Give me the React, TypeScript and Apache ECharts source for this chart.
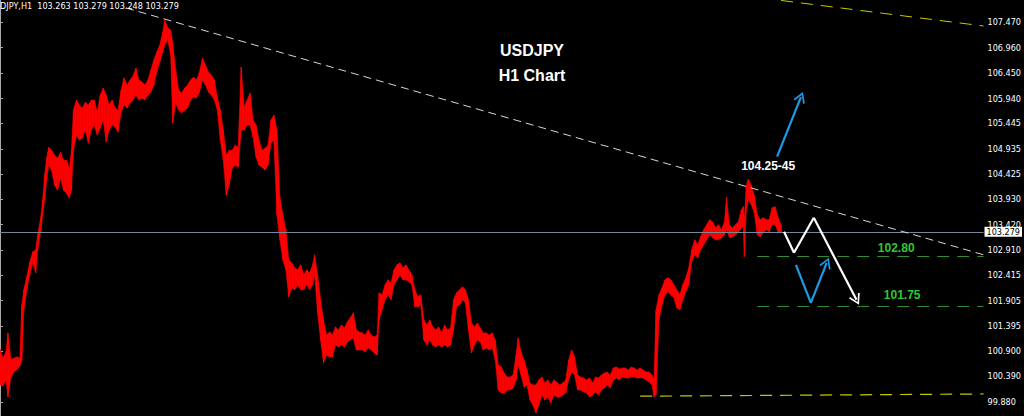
import React, { useEffect, useRef } from "react";
import * as echarts from "echarts";

// Bar index (hours) of each sampled bar
const bars = [
  0, 3, 6, 8, 11, 14, 17, 20, 22, 24,
  27, 30, 33, 36, 38, 41, 43, 45, 47, 49,
  52, 55, 58, 61, 64, 67, 70, 72, 74, 77,
  80, 83, 86, 89, 92, 95, 98, 101, 104, 107,
  110, 113, 116, 119, 122, 125, 128, 131, 134, 137,
  140, 143, 146, 149, 152, 155, 158, 161, 164, 166,
  169, 172, 174, 177, 180, 183, 186, 189, 192, 195,
  198, 201, 204, 207, 210, 213, 216, 219, 222, 225,
  228, 231, 234, 237, 240, 243, 246, 249, 252, 255,
  258, 261, 264, 267, 270, 273, 276, 279, 282, 285,
  288, 291, 294, 297, 300, 303, 306, 309, 312, 315,
  317, 320, 323, 326, 329, 332, 335, 338, 341, 344,
  347, 350, 353, 356, 359, 362, 365, 368, 371, 374,
  377, 380, 382, 385, 388, 391, 394, 397, 400, 403,
  406, 409, 412, 415, 418, 421, 424, 427, 430, 433,
  436, 439, 442, 445, 448, 451, 454, 457, 460, 463,
  466, 469, 472, 475, 478, 481, 484, 487, 490, 493,
  496, 499, 502, 505, 508, 511, 514, 517, 520, 522,
  525, 528, 531, 534, 537, 540, 543, 546, 549, 552,
  555, 558, 561, 564, 567, 570, 573, 576, 579, 582,
  585, 588, 591, 594, 597, 600, 603, 606, 609, 612,
  615, 618, 621, 624, 627, 630, 633, 636, 639, 642,
  645, 648, 651, 654, 657, 659, 661, 664, 667, 670,
  673, 676, 679, 682, 685, 688, 691, 694, 697, 700,
  703, 706, 709, 712, 715, 718, 721, 724, 727, 730,
  732, 735, 738, 741, 744, 747, 749, 750, 752, 754,
  757, 760, 763, 766, 769, 772, 775, 778, 781, 784,
  787,
];

const highs = [
  100.94, 100.76, 100.88, 101.26, 100.72, 100.76, 100.78, 100.76, 101.82, 102.12,
  102.38, 102.68, 102.88, 102.92, 103.22, 103.56, 103.92, 104.41, 104.75, 104.97,
  104.91, 104.81, 104.75, 104.87, 104.71, 104.71, 104.55, 104.91, 105.71, 105.91,
  105.81, 105.75, 105.87, 105.81, 105.91, 105.91, 105.67, 106.01, 106.15, 106.01,
  105.81, 105.91, 105.75, 105.71, 106.11, 106.35, 106.21, 106.31, 106.39, 106.55,
  106.31, 106.27, 106.21, 106.31, 106.51, 106.71, 106.87, 107.01, 107.27, 107.51,
  107.35, 107.31, 107.05, 106.51, 106.11, 106.05, 106.15, 106.21, 106.31, 106.37,
  106.31, 106.47, 106.75, 106.61, 106.47, 106.41, 106.31, 105.97, 105.71, 105.31,
  104.81, 104.91, 104.91, 105.01, 104.97, 106.57, 105.77, 105.91, 106.05, 105.51,
  105.41, 105.11, 104.91, 104.95, 105.01, 105.51, 105.61, 105.31, 103.97, 103.62,
  103.32, 102.72, 102.66, 102.56, 102.52, 102.62, 102.42, 102.52, 102.46, 102.62,
  102.82, 102.42, 101.92, 101.52, 101.22, 101.28, 101.22, 101.38, 101.32, 101.42,
  101.36, 101.48, 101.56, 101.66, 101.32, 101.28, 101.26, 101.22, 101.32, 101.22,
  101.18, 101.22, 102.06, 102.02, 102.22, 102.32, 102.26, 102.52, 102.62, 102.66,
  102.56, 102.62, 102.52, 102.42, 102.12, 101.98, 102.02, 101.52, 101.42, 101.52,
  101.38, 101.32, 101.38, 101.26, 101.42, 101.32, 101.36, 101.92, 102.06, 102.12,
  102.18, 102.12, 101.92, 101.46, 101.38, 101.46, 101.36, 101.26, 101.26, 101.22,
  101.26, 101.12, 100.62, 100.58, 100.46, 100.38, 100.38, 100.42, 100.82, 101.16,
  100.88, 100.72, 100.52, 100.26, 100.22, 100.22, 100.32, 100.38, 100.26, 100.32,
  100.22, 100.32, 100.28, 100.22, 100.26, 100.32, 100.72, 100.92, 100.78, 100.42,
  100.38, 100.36, 100.32, 100.36, 100.26, 100.38, 100.36, 100.42, 100.46, 100.48,
  100.42, 100.56, 100.58, 100.54, 100.56, 100.56, 100.52, 100.58, 100.56, 100.52,
  100.56, 100.52, 100.48, 100.48, 100.42, 100.32, 101.72, 102.02, 102.16, 102.32,
  102.36, 102.32, 102.22, 102.12, 102.02, 102.22, 102.36, 102.56, 102.92, 103.12,
  103.02, 103.18, 103.32, 103.42, 103.52, 103.48, 103.36, 103.42, 103.32, 103.48,
  103.97, 103.42, 103.36, 103.42, 103.48, 103.72, 103.78, 103.52, 104.21, 104.33,
  104.21, 104.01, 103.62, 103.52, 103.56, 103.52, 103.52, 103.76, 103.78, 103.56,
  103.42,
];

const lows = [
  100.22, 100.20, 100.32, 99.98, 100.38, 100.48, 100.52, 100.60, 100.72, 101.72,
  102.12, 102.42, 102.66, 102.46, 102.92, 103.28, 103.62, 103.92, 104.31, 104.61,
  104.51, 104.21, 104.11, 104.35, 104.11, 104.05, 103.95, 104.11, 104.91, 105.21,
  105.11, 105.15, 105.31, 105.05, 105.31, 105.41, 105.21, 105.35, 105.51, 105.07,
  105.31, 105.41, 105.37, 105.27, 105.67, 105.81, 105.75, 105.85, 105.91, 106.01,
  105.91, 105.95, 105.91, 106.01, 106.07, 106.21, 106.47, 106.67, 106.87, 107.01,
  107.11, 106.81, 105.45, 105.85, 105.71, 105.65, 105.71, 105.75, 105.91, 105.97,
  105.95, 106.07, 106.31, 106.21, 106.07, 106.01, 105.91, 105.71, 105.11, 104.71,
  104.01, 104.21, 104.55, 104.61, 104.57, 105.31, 105.31, 105.41, 105.41, 105.17,
  104.77, 104.61, 104.57, 104.51, 104.61, 105.05, 105.11, 103.62, 103.12, 102.72,
  102.52, 101.98, 102.16, 102.12, 102.22, 102.12, 102.12, 102.22, 102.12, 102.22,
  102.42, 101.66, 101.12, 100.66, 100.82, 100.78, 100.78, 101.02, 100.98, 101.02,
  100.98, 101.08, 101.12, 101.16, 100.92, 100.92, 100.92, 100.88, 100.96, 100.92,
  100.86, 100.82, 101.52, 101.72, 101.92, 102.02, 101.92, 102.22, 102.32, 102.42,
  102.32, 102.32, 102.28, 102.22, 101.78, 101.78, 101.82, 101.12, 101.02, 101.12,
  101.02, 100.98, 101.02, 100.98, 101.02, 100.98, 101.02, 101.32, 101.78, 101.82,
  101.92, 101.86, 101.32, 100.86, 101.02, 101.12, 101.08, 100.92, 100.96, 100.92,
  100.96, 100.72, 100.12, 100.06, 100.06, 100.12, 100.12, 100.16, 100.32, 100.62,
  100.42, 100.18, 100.22, 99.92, 99.82, 99.66, 99.82, 100.02, 99.92, 99.98,
  99.86, 100.02, 99.98, 99.98, 100.02, 100.06, 100.32, 100.48, 100.42, 100.12,
  100.12, 100.08, 100.06, 99.98, 100.02, 100.08, 100.02, 100.12, 100.16, 100.22,
  100.16, 100.32, 100.36, 100.32, 100.38, 100.36, 100.36, 100.38, 100.38, 100.36,
  100.36, 100.36, 100.32, 100.28, 100.22, 99.98, 100.02, 101.52, 101.82, 102.02,
  102.08, 102.02, 101.96, 101.76, 101.72, 101.92, 102.08, 102.22, 102.68, 102.82,
  102.76, 102.92, 103.02, 103.12, 103.22, 103.16, 103.12, 103.12, 103.16, 103.22,
  103.32, 103.16, 103.18, 103.22, 103.26, 103.36, 103.38, 102.78, 103.72, 103.92,
  103.82, 103.66, 103.22, 103.18, 103.26, 103.32, 103.28, 103.42, 103.42, 103.28,
  103.26,
];

// Right price scale tick labels
const tickValues = [
  107.47, 106.96, 106.45, 105.94, 105.445, 104.935, 104.425, 103.93,
  103.42, 102.91, 102.415, 101.905, 101.395, 100.9, 100.39, 99.88,
];

const yMin = 99.6;
const yMax = 107.909;
const xMax = 991;

const lastPrice = 103.279;
const headerText = "USDJPY,H1  103.263 103.279 103.248 103.279";
const titleLines = ["USDJPY", "H1 Chart"];

// Drawn objects, [bar index, price]
const trendLine = [[127, 107.75], [991, 102.82]];
const yellowTop = [[787, 107.9], [991, 107.39]];
const yellowBottom = [[645, 99.995], [991, 100.04]];
const supportLevels = [102.8, 101.8];
const supportStart = 763;
const whitePath = [[790, 103.28], [800, 102.86], [820, 103.56], [863, 101.92]];
const blueV = [[802, 102.62], [817, 101.86], [833, 102.66]];
const blueUp = [[783, 104.78], [807, 105.97]];
const notes = [
  { text: "104.25-45", at: [774, 104.59], color: "#ffffff" },
  { text: "102.80", at: [903, 102.95], color: "#33c633" },
  { text: "101.75", at: [909, 102.01], color: "#33c633" },
];

const NARROW = "'Liberation Sans Narrow', 'DejaVu Sans Condensed', Arial, sans-serif";
const ARROW = "path://M10,0 L20,16 L17.5,17.5 L10,5 L2.5,17.5 L0,16 Z";

export default function App() {
  const ref = useRef<HTMLDivElement>(null);

  useEffect(() => {
    const chart = echarts.init(ref.current!, null, { renderer: "svg" });

    const seg = (a: number[], b: number[], color: string, width: number, type: any, endSym: string) => [
      { coord: a, symbol: "none", lineStyle: { color, width, type } },
      { coord: b, symbol: endSym, symbolSize: [12, 11], lineStyle: { color, width, type } },
    ];
    const pathSegs = (p: number[][], color: string, width: number) =>
      p.slice(1).map((pt, i) => seg(p[i], pt, color, width, "solid", i === p.length - 2 ? ARROW : "none"));

    const markLines: any[] = [
      {
        yAxis: lastPrice,
        lineStyle: { color: "#778899", width: 1, type: "solid" },
        label: {
          show: true,
          position: "end",
          distance: 1,
          formatter: lastPrice.toFixed(3),
          color: "#000",
          backgroundColor: "#fff",
          padding: [1, 2, 0, 2],
          fontSize: 9,
          fontFamily: NARROW,
        },
      },
      seg(trendLine[0], trendLine[1], "#d8d8d8", 1, [8, 5], "none"),
      seg(yellowTop[0], yellowTop[1], "#c8c800", 1, [12, 8], "none"),
      seg(yellowBottom[0], yellowBottom[1], "#c8c800", 1.2, [12, 8], "none"),
      ...supportLevels.map((v) => seg([supportStart, v], [xMax, v], "#2e8b2e", 1.2, [12, 8], "none")),
      ...pathSegs(whitePath, "#ffffff", 2.2),
      ...pathSegs(blueV, "#1e9be6", 2.2),
      ...pathSegs(blueUp, "#1e9be6", 2.2),
    ];

    const renderBand = (params: any, api: any) => {
      const i = params.dataIndex;
      const j = Math.min(i + 1, bars.length - 1);
      const a = api.coord([bars[i], highs[i]]);
      const b = api.coord([bars[j], highs[j]]);
      const c = api.coord([bars[j], lows[j]]);
      const d = api.coord([bars[i], lows[i]]);
      return {
        type: "polygon",
        shape: { points: [a, b, c, d] },
        style: { fill: "#ff0000", stroke: "#ff0000", lineWidth: 0.6 },
        silent: true,
      };
    };

    chart.setOption({
      animation: false,
      backgroundColor: "#000",
      grid: { left: 0, right: 33, top: 0, bottom: 0, containLabel: false },
      xAxis: { type: "value", min: 0, max: xMax, show: false },
      yAxis: {
        type: "value",
        position: "right",
        min: yMin,
        max: yMax,
        axisLine: { show: true, lineStyle: { color: "#a8a8a8", width: 1 } },
        axisTick: { show: true, length: 3, customValues: tickValues, lineStyle: { color: "#a8a8a8" } },
        axisLabel: {
          customValues: tickValues,
          formatter: (v: number) => v.toFixed(3),
          color: "#ffffff",
          fontSize: 9,
          margin: 4,
          fontFamily: NARROW,
        },
        splitLine: { show: false },
      },
      graphic: [
        {
          type: "text",
          x: -11,
          y: 1,
          z: 100,
          style: { text: headerText, fill: "#fff", fontSize: 9, fontFamily: NARROW },
        },
        ...titleLines.map((t, i) => ({
          type: "text",
          x: 532,
          y: 50 + i * 25,
          z: 100,
          style: {
            text: t,
            fill: "#fff",
            fontSize: 16,
            fontWeight: "bold",
            fontFamily: "Arial, 'Liberation Sans', sans-serif",
            textAlign: "center",
            textVerticalAlign: "middle",
          },
        })),
      ],
      series: [
        {
          name: "USDJPY",
          type: "custom",
          renderItem: renderBand,
          data: bars.map((x, i) => [x, lows[i], highs[i]]),
          encode: { x: 0, y: [1, 2] },
          silent: true,
          clip: true,
          z: 2,
          markLine: {
            silent: true,
            symbol: "none",
            label: { show: false },
            data: markLines,
          },
          markPoint: {
            silent: true,
            symbol: "circle",
            symbolSize: 1,
            itemStyle: { color: "transparent" },
            data: notes.map((n) => ({
              coord: n.at,
              label: {
                show: true,
                position: "inside",
                formatter: n.text,
                color: n.color,
                fontSize: 12,
                fontWeight: "bold",
                fontFamily: "Arial, 'Liberation Sans', sans-serif",
              },
            })),
          },
        },
      ],
    });

    return () => chart.dispose();
  }, []);

  return (
    <div
      ref={ref}
      style={{ position: "fixed", left: 0, top: 0, width: 1024, height: 416, background: "#000" }}
    />
  );
}
